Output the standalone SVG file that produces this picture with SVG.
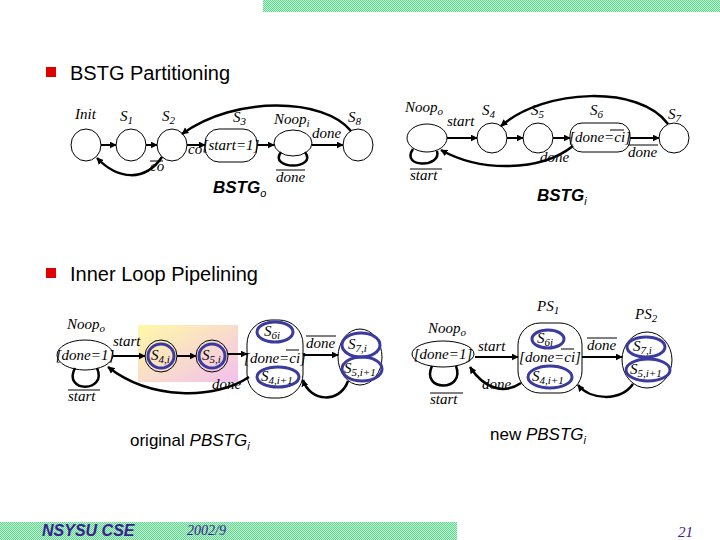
<svg xmlns="http://www.w3.org/2000/svg" width="720" height="540" viewBox="0 0 720 540">
<defs>
<marker id="ah" viewBox="0 0 10 10" refX="9" refY="5" markerWidth="7" markerHeight="7" markerUnits="userSpaceOnUse" orient="auto"><path d="M0,0 L10,5 L0,10 z" fill="#000"/></marker>
<pattern id="chk" width="2" height="2" patternUnits="userSpaceOnUse"><rect width="2" height="2" fill="#c6f2d6"/><rect width="1" height="1" fill="#5cd68c"/><rect x="1" y="1" width="1" height="1" fill="#5cd68c"/></pattern>
<linearGradient id="yp" x1="0" y1="0" x2="1" y2="1"><stop offset="0" stop-color="#fff9a6"/><stop offset="1" stop-color="#f3c0ee"/></linearGradient>
<style>
.n{fill:#fff;stroke:#000;stroke-width:1}
.b{fill:none;stroke:#3a3aa0;stroke-width:3}
.e{fill:none;stroke:#000;stroke-width:2;marker-end:url(#ah)}
.c{fill:none;stroke:#000;stroke-width:2.5}
.ca{fill:none;stroke:#000;stroke-width:2.5;marker-end:url(#ah)}
.ol{stroke:#000;stroke-width:1}
.m{font-family:"Liberation Serif",serif;font-style:italic;font-size:15px;fill:#000}
.s{font-size:11px}
.h{font-family:"Liberation Sans",Arial,sans-serif;font-size:20px;fill:#000}
.t{font-family:"Liberation Sans",Arial,sans-serif;font-size:17px;fill:#000}
.bs{font-family:"Liberation Sans",Arial,sans-serif;font-size:17px;font-weight:bold;font-style:italic;fill:#000}
.ft{fill:#3a2090}
</style>
</defs>
<rect width="720" height="540" fill="#fff"/>
<rect x="263" y="0" width="457" height="12" fill="url(#chk)"/>
<rect x="0" y="522" width="457" height="18" fill="url(#chk)"/>

<g id="headings">
<rect x="46" y="67" width="10" height="10" fill="#e00000"/>
<text class="h" x="70" y="80">BSTG Partitioning</text>
<rect x="46" y="268" width="10" height="10" fill="#e00000"/>
<text class="h" x="70" y="281">Inner Loop Pipelining</text>
<text class="t" x="130" y="446">original <tspan font-style="italic">PBSTG<tspan class="s" dy="4">i</tspan></tspan></text>
<text class="t" x="490" y="440">new <tspan font-style="italic">PBSTG<tspan class="s" dy="4">i</tspan></tspan></text>
</g>

<!-- top-left BSTG_o -->
<g id="init"><ellipse class="n" cx="86" cy="145" rx="15" ry="16"/><text class="m" x="75" y="119">Init</text></g>
<g id="s1"><ellipse class="n" cx="131" cy="145" rx="15" ry="16"/><text class="m" x="120" y="121" font-size="16">S<tspan class="s" dy="3">1</tspan></text></g>
<g id="s2"><ellipse class="n" cx="172" cy="145" rx="15" ry="16"/><text class="m" x="162" y="121" font-size="16">S<tspan class="s" dy="3">2</tspan></text></g>
<g id="s3"><rect class="n" x="205" y="129" width="52" height="33" rx="14"/><text class="m" x="231" y="150" text-anchor="middle" font-size="13">[start=1]</text><text class="m" x="233" y="122" font-size="16">S<tspan class="s" dy="3">3</tspan></text></g>
<g id="noopi"><ellipse class="n" cx="293" cy="143" rx="19" ry="13"/><text class="m" x="274" y="124">Noop<tspan class="s" dy="3">i</tspan></text></g>
<g id="s8"><ellipse class="n" cx="358" cy="145" rx="15" ry="16"/><text class="m" x="348" y="122" font-size="16">S<tspan class="s" dy="3">8</tspan></text></g>
<text class="bs" x="213" y="193">BSTG<tspan class="s" font-weight="normal" dy="4">o</tspan></text>

<!-- top-right BSTG_i -->
<g id="noopo1"><ellipse class="n" cx="427" cy="138" rx="20" ry="14"/><text class="m" x="405" y="112">Noop<tspan class="s" dy="3">o</tspan></text></g>
<g id="s4"><ellipse class="n" cx="492" cy="138" rx="15" ry="15"/><text class="m" x="482" y="115" font-size="16">S<tspan class="s" dy="3">4</tspan></text></g>
<g id="s5"><ellipse class="n" cx="538" cy="138" rx="15" ry="15"/><text class="m" x="531" y="115" font-size="16">S<tspan class="s" dy="3">5</tspan></text></g>
<g id="s6"><rect class="n" x="570" y="123" width="60" height="29" rx="12"/><text class="m" x="600" y="142" text-anchor="middle" font-size="13">[done=ci]</text><line class="ol" x1="610" y1="130" x2="624" y2="130"/><text class="m" x="590" y="115" font-size="16">S<tspan class="s" dy="3">6</tspan></text></g>
<g id="s7"><ellipse class="n" cx="674" cy="138" rx="15" ry="15"/><text class="m" x="668" y="119" font-size="16">S<tspan class="s" dy="3">7</tspan></text></g>
<text class="bs" x="537" y="201">BSTG<tspan class="s" font-weight="normal" dy="4">i</tspan></text>

<!-- bottom-left original PBSTG_i -->
<rect x="138" y="325" width="100" height="57" fill="url(#yp)"/>
<g id="noopo2"><ellipse class="n" cx="85" cy="355" rx="28" ry="15"/><text class="m" x="85" y="360" text-anchor="middle" font-size="14">[done=1]</text><text class="m" x="67" y="329">Noop<tspan class="s" dy="3">o</tspan></text></g>
<g id="s4i"><ellipse class="n" cx="161" cy="356" rx="16" ry="16" style="fill:none"/><ellipse class="b" cx="161" cy="356" rx="13" ry="12"/><text class="m" x="151" y="360" font-size="15">S<tspan class="s" dy="3">4,i</tspan></text></g>
<g id="s5i"><ellipse class="n" cx="212" cy="356" rx="16" ry="16" style="fill:none"/><ellipse class="b" cx="212" cy="356" rx="13" ry="12"/><text class="m" x="202" y="360" font-size="15">S<tspan class="s" dy="3">5,i</tspan></text></g>
<g id="ps1a"><rect class="n" x="247" y="320" width="56" height="78" rx="24"/><ellipse class="b" cx="275" cy="332" rx="18" ry="10"/><text class="m" x="264" y="336" font-size="15">S<tspan class="s" dy="3">6i</tspan></text><text class="m" x="275" y="363" text-anchor="middle" font-size="14">[done=ci]</text><line class="ol" x1="286" y1="350" x2="299" y2="350"/><ellipse class="b" cx="278" cy="377" rx="21" ry="10"/><text class="m" x="261" y="381" font-size="15">S<tspan class="s" dy="3">4,i+1</tspan></text></g>
<g id="ps2a"><ellipse class="n" cx="360" cy="357" rx="22" ry="28"/><ellipse class="b" cx="361" cy="345" rx="19" ry="12"/><text class="m" x="348" y="349" font-size="15">S<tspan class="s" dy="3">7,i</tspan></text><ellipse class="b" cx="362" cy="369" rx="20" ry="12"/><text class="m" x="344" y="373" font-size="15">S<tspan class="s" dy="3">5,i+1</tspan></text></g>

<!-- bottom-right new PBSTG_i -->
<g id="noopo3"><ellipse class="n" cx="443" cy="354" rx="31" ry="13"/><text class="m" x="443" y="359" text-anchor="middle" font-size="14">[done=1]</text><text class="m" x="428" y="333">Noop<tspan class="s" dy="3">o</tspan></text></g>
<g id="ps1"><rect class="n" x="518" y="323" width="64" height="70" rx="22"/><text class="m" x="537" y="311" font-size="16">PS<tspan class="s" dy="3">1</tspan></text><ellipse class="b" cx="548" cy="339" rx="16" ry="9"/><text class="m" x="537" y="343" font-size="15">S<tspan class="s" dy="3">6i</tspan></text><text class="m" x="550" y="362" text-anchor="middle" font-size="14">[done=ci]</text><line class="ol" x1="561" y1="349" x2="574" y2="349"/><ellipse class="b" cx="550" cy="377" rx="22" ry="11"/><text class="m" x="532" y="381" font-size="15">S<tspan class="s" dy="3">4,i+1</tspan></text></g>
<g id="ps2"><ellipse class="n" cx="647" cy="360" rx="25" ry="28"/><text class="m" x="635" y="319" font-size="16">PS<tspan class="s" dy="3">2</tspan></text><ellipse class="b" cx="646" cy="347" rx="19" ry="10"/><text class="m" x="633" y="351" font-size="15">S<tspan class="s" dy="3">7,i</tspan></text><ellipse class="b" cx="648" cy="370" rx="22" ry="11"/><text class="m" x="630" y="374" font-size="15">S<tspan class="s" dy="3">5,i+1</tspan></text></g>

<g id="connectors">
<line class="e" x1="101" y1="145" x2="116" y2="145"/>
<line class="e" x1="146" y1="145" x2="157" y2="145"/>
<line class="e" x1="187" y1="145" x2="205" y2="145"/>
<line class="e" x1="257" y1="145" x2="274" y2="145"/>
<line class="e" x1="312" y1="145" x2="343" y2="145"/>
<path class="c" d="M281 152 C268 170 318 170 305 152"/>
<path class="ca" d="M351 131 C325 98 235 95 182 134"/>
<path class="ca" d="M162 157 C145 182 118 180 97 158"/>
<line class="e" x1="447" y1="138" x2="477" y2="138"/>
<line class="e" x1="507" y1="138" x2="523" y2="138"/>
<line class="e" x1="553" y1="138" x2="570" y2="138"/>
<line class="e" x1="630" y1="138" x2="659" y2="138"/>
<path class="c" d="M413 149 C400 168 442 168 437 151"/>
<path class="ca" d="M573 146 C540 172 480 172 441 150"/>
<path class="ca" d="M668 124 C640 85 545 88 501 126"/>
<line class="e" x1="113" y1="356" x2="145" y2="356"/>
<line class="e" x1="177" y1="356" x2="196" y2="356"/>
<line class="e" x1="228" y1="354" x2="247" y2="354"/>
<line class="e" x1="303" y1="355" x2="338" y2="355"/>
<path class="c" d="M75 368 C62 393 108 393 97 368"/>
<path class="ca" d="M249 377 C215 400 150 400 108 367"/>
<path class="ca" d="M348 381 C340 404 310 402 303 380"/>
<line class="e" x1="475" y1="357" x2="518" y2="357"/>
<line class="e" x1="582" y1="357" x2="622" y2="357"/>
<path class="c" d="M432 366 C420 392 466 392 456 366"/>
<path class="ca" d="M521 383 C505 394 485 390 470 367"/>
<path class="ca" d="M633 384 C620 402 590 400 578 385"/>
</g>

<g id="labels">
<text class="m" x="312" y="138">done</text>
<text class="m" x="188" y="154" font-size="13">co</text>
<text class="m" x="150" y="171" font-size="13">co</text><line class="ol" x1="150" y1="161" x2="163" y2="161"/>
<text class="m" x="276" y="182">done</text><line class="ol" x1="276" y1="170" x2="305" y2="170"/>
<text class="m" x="447" y="126">start</text>
<text class="m" x="410" y="180">start</text><line class="ol" x1="410" y1="169" x2="442" y2="169"/>
<text class="m" x="540" y="162">done</text>
<text class="m" x="628" y="157">done</text><line class="ol" x1="628" y1="145" x2="658" y2="145"/>
<text class="m" x="113" y="346">start</text>
<text class="m" x="68" y="401">start</text><line class="ol" x1="68" y1="390" x2="100" y2="390"/>
<text class="m" x="212" y="389">done</text>
<text class="m" x="306" y="348">done</text><line class="ol" x1="306" y1="336" x2="336" y2="336"/>
<text class="m" x="478" y="351">start</text>
<text class="m" x="430" y="404">start</text><line class="ol" x1="430" y1="393" x2="463" y2="393"/>
<text class="m" x="482" y="389">done</text>
<text class="m" x="587" y="350">done</text><line class="ol" x1="587" y1="338" x2="617" y2="338"/>
</g>

<g id="footer">
<text class="ft" x="42" y="536" font-family="Liberation Sans, Arial, sans-serif" font-size="16" font-weight="bold" font-style="italic">NSYSU CSE</text>
<text class="ft" x="187" y="535" font-family="Liberation Serif, serif" font-size="14" font-style="italic">2002/9</text>
<text class="ft" x="678" y="537" font-family="Liberation Serif, serif" font-size="15" font-style="italic">21</text>
</g>
</svg>
